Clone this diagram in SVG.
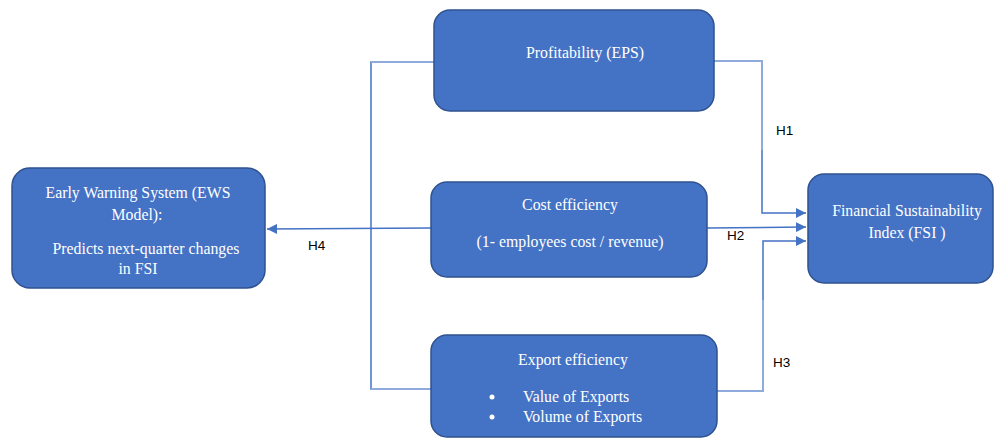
<svg xmlns="http://www.w3.org/2000/svg" width="995" height="439" viewBox="0 0 995 439">
<style>
.box{fill:#4472C4;stroke:#2F528F;stroke-width:1.5}
.t{font-family:"Liberation Serif","Times New Roman",serif;font-size:15.8px;fill:#FFFFFF;text-anchor:middle}
.tl{font-family:"Liberation Serif","Times New Roman",serif;font-size:15.8px;fill:#FFFFFF}
.lab{font-family:"Liberation Sans",Arial,sans-serif;font-size:13.5px;fill:#000000}
.c{fill:none;stroke:#4472C4;stroke-width:1.5}
.cl{fill:none;stroke:#8FAADC;stroke-width:2}
</style>
<defs>
<marker id="ah" viewBox="0 0 10 10" refX="10" refY="5" markerWidth="10" markerHeight="10" markerUnits="userSpaceOnUse" orient="auto">
<path d="M0,0 L10,5 L0,10 z" fill="#4472C4"/>
</marker>
</defs>
<rect x="0" y="0" width="995" height="439" fill="#FFFFFF"/>
<g id="connectors">
<path class="c" d="M434,62 L371,62 L371,389 L431,389"/>
<path class="cl" d="M434,62 L371,62"/>
<path class="cl" d="M431,389 L371,389"/>
<path class="c" d="M431,228 L267,229" marker-end="url(#ah)"/>
<path class="c" d="M714,61 L762,61 L762,213 L806,213" marker-end="url(#ah)"/>
<path class="cl" d="M714,61 L762,61 L762,150"/>
<path class="c" d="M707,228 L806,227" marker-end="url(#ah)"/>
<path class="c" d="M717,391 L763,391 L763,241 L806,241" marker-end="url(#ah)"/>
<path class="cl" d="M717,391 L763,391 L763,300"/>
<text class="lab" x="776" y="135">H1</text>
<text class="lab" x="727" y="240">H2</text>
<text class="lab" x="773" y="367">H3</text>
<text class="lab" x="308" y="250">H4</text>
</g>
<g id="profitability">
<rect class="box" x="434" y="10" width="280" height="101" rx="16"/>
<text class="t" x="585" y="58">Profitability (EPS)</text>
</g>
<g id="ews">
<rect class="box" x="12" y="168" width="253" height="120" rx="18"/>
<text class="t" x="138" y="198">Early Warning System (EWS</text>
<text class="t" x="137" y="220">Model):</text>
<text class="t" x="146" y="254">Predicts next-quarter changes</text>
<text class="t" x="138" y="274">in FSI</text>
</g>
<g id="cost">
<rect class="box" x="431" y="182" width="276" height="95" rx="16"/>
<text class="t" x="570" y="210">Cost efficiency</text>
<text class="t" x="570" y="247">(1- employees cost / revenue)</text>
</g>
<g id="export">
<rect class="box" x="431" y="335" width="286" height="102" rx="16"/>
<text class="t" x="573" y="365">Export efficiency</text>
<circle cx="492" cy="397" r="2.5" fill="#FFFFFF"/>
<circle cx="492" cy="417" r="2.5" fill="#FFFFFF"/>
<text class="tl" x="523" y="402">Value of Exports</text>
<text class="tl" x="523" y="422">Volume of Exports</text>
</g>
<g id="fsi">
<rect class="box" x="808" y="174" width="185" height="109" rx="16"/>
<text class="t" x="907" y="216">Financial Sustainability</text>
<text class="t" x="907" y="238">Index (FSI )</text>
</g>
</svg>
